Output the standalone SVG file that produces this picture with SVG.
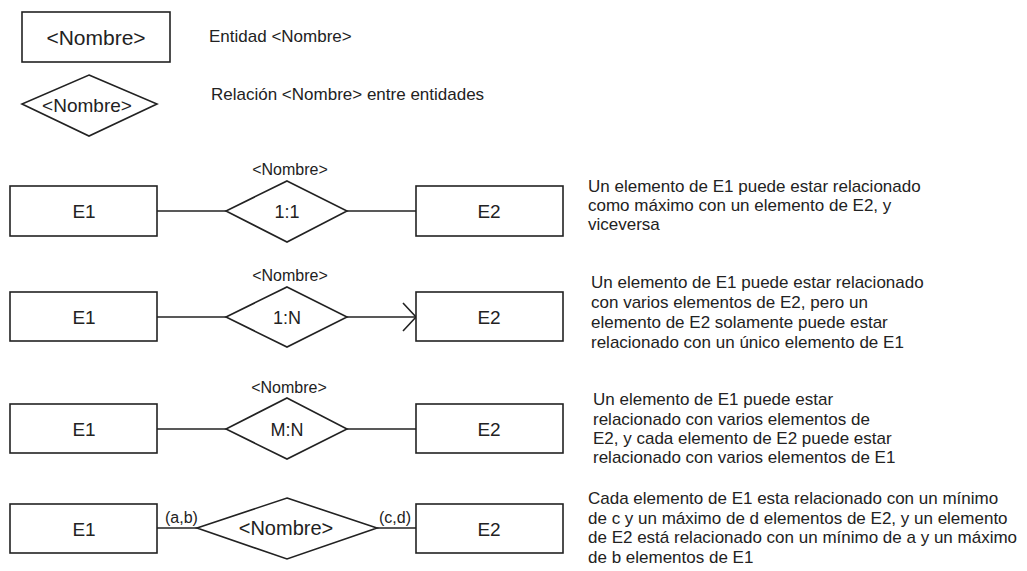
<svg xmlns="http://www.w3.org/2000/svg" width="1027" height="571" viewBox="0 0 1027 571">
<defs>
<style>
.shape{fill:#fff;stroke:#222;stroke-width:1.6}
.conn{fill:none;stroke:#222;stroke-width:1.6}
text{font-family:"Liberation Sans",Arial,sans-serif;fill:#222}
.ent{font-size:19px;text-anchor:middle}
.rel{font-size:18px;text-anchor:middle}
.lbl{font-size:16px;text-anchor:middle}
.desc{font-size:17px}
.card{font-size:16px}
</style>
</defs>
<rect width="1027" height="571" fill="#fff"/>

<!-- Legend -->
<g id="legend-entity">
<rect class="shape" x="22" y="12" width="148" height="50"/>
<text x="96" y="45" font-size="21" text-anchor="middle">&lt;Nombre&gt;</text>
</g>
<text class="desc" x="209" y="42">Entidad &lt;Nombre&gt;</text>
<g id="legend-relation">
<polygon class="shape" points="89,75 157,104 89,136 22,104"/>
<text x="87" y="112" font-size="19" text-anchor="middle">&lt;Nombre&gt;</text>
</g>
<text class="desc" x="211" y="100">Relación &lt;Nombre&gt; entre entidades</text>

<!-- Connectors -->
<g id="connectors">
<line class="conn" x1="157" y1="211" x2="226" y2="211"/>
<line class="conn" x1="347" y1="211" x2="416" y2="211"/>
<line class="conn" x1="157" y1="317" x2="226" y2="317"/>
<line class="conn" x1="347" y1="317" x2="416" y2="317"/>
<polyline class="conn" points="403,303 416,317 403,331"/>
<line class="conn" x1="157" y1="429" x2="226" y2="429"/>
<line class="conn" x1="347" y1="429" x2="416" y2="429"/>
<line class="conn" x1="157" y1="528" x2="197" y2="528"/>
<line class="conn" x1="377" y1="528" x2="416" y2="528"/>
</g>

<!-- Row 1 -->
<g id="r1-e1"><rect class="shape" x="10" y="186" width="147" height="50"/><text class="ent" x="84" y="218">E1</text></g>
<g id="r1-rel"><polygon class="shape" points="287,181 347,211 287,242 226,211"/><text class="rel" x="287" y="218">1:1</text><text class="lbl" x="290" y="175">&lt;Nombre&gt;</text></g>
<g id="r1-e2"><rect class="shape" x="416" y="186" width="147" height="50"/><text class="ent" x="489" y="218">E2</text></g>
<text class="desc" x="588" y="192">Un elemento de E1 puede estar relacionado</text>
<text class="desc" x="588" y="211">como máximo con un elemento de E2, y</text>
<text class="desc" x="588" y="230">viceversa</text>

<!-- Row 2 -->
<g id="r2-e1"><rect class="shape" x="10" y="292" width="147" height="49"/><text class="ent" x="84" y="324">E1</text></g>
<g id="r2-rel"><polygon class="shape" points="287,287 347,317 287,347 226,317"/><text class="rel" x="287" y="324">1:N</text><text class="lbl" x="290" y="281">&lt;Nombre&gt;</text></g>
<g id="r2-e2"><rect class="shape" x="416" y="292" width="147" height="49"/><text class="ent" x="489" y="324">E2</text></g>
<text class="desc" x="591" y="288">Un elemento de E1 puede estar relacionado</text>
<text class="desc" x="591" y="308">con varios elementos de E2, pero un</text>
<text class="desc" x="591" y="328">elemento de E2 solamente puede estar</text>
<text class="desc" x="591" y="348">relacionado con un único elemento de E1</text>

<!-- Row 3 -->
<g id="r3-e1"><rect class="shape" x="10" y="404" width="147" height="49"/><text class="ent" x="84" y="436">E1</text></g>
<g id="r3-rel"><polygon class="shape" points="287,398 347,429 287,459 226,429"/><text class="rel" x="287" y="436">M:N</text><text class="lbl" x="289" y="393">&lt;Nombre&gt;</text></g>
<g id="r3-e2"><rect class="shape" x="416" y="404" width="147" height="49"/><text class="ent" x="489" y="436">E2</text></g>
<text class="desc" x="593" y="405">Un elemento de E1 puede estar</text>
<text class="desc" x="593" y="425">relacionado con varios elementos de</text>
<text class="desc" x="593" y="444">E2, y cada elemento de E2 puede estar</text>
<text class="desc" x="593" y="463">relacionado con varios elementos de E1</text>

<!-- Row 4 -->
<g id="r4-e1"><rect class="shape" x="10" y="504" width="147" height="49"/><text class="ent" x="84" y="536">E1</text></g>
<g id="r4-rel"><polygon class="shape" points="287,498 377,528 287,559 197,528"/><text x="286" y="535" font-size="20" text-anchor="middle">&lt;Nombre&gt;</text></g>
<g id="r4-e2"><rect class="shape" x="416" y="504" width="147" height="49"/><text class="ent" x="489" y="536">E2</text></g>
<text class="card" x="165" y="523">(a,b)</text>
<text class="card" x="379" y="523">(c,d)</text>
<text class="desc" x="588" y="504">Cada elemento de E1 esta relacionado con un mínimo</text>
<text class="desc" x="588" y="524">de c y un máximo de d elementos de E2, y un elemento</text>
<text class="desc" x="588" y="543">de E2 está relacionado con un mínimo de a y un máximo</text>
<text class="desc" x="588" y="563">de b elementos de E1</text>
</svg>
